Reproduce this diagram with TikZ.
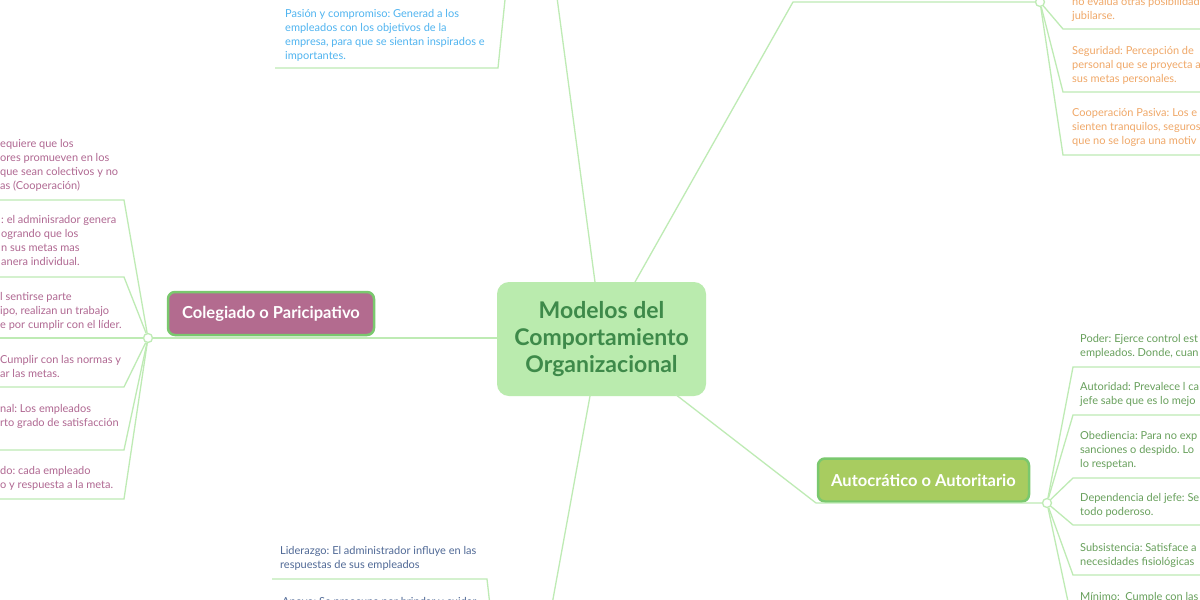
\documentclass[tikz,border=0pt]{standalone}
\usepackage{fontspec}
\setmainfont{Lato}
\usepackage{xcolor}
\usepackage{tikz}
\usetikzlibrary{positioning, calc}
\frenchspacing
\definecolor{mapline}{RGB}{190, 235, 180}
\definecolor{corefill}{RGB}{186, 235, 174}
\definecolor{coretext}{RGB}{62, 138, 74}
\definecolor{topicborder}{RGB}{122, 200, 110}
\definecolor{colfill}{RGB}{179, 107, 143}
\definecolor{autfill}{RGB}{168, 204, 96}
\definecolor{coltext}{RGB}{176, 104, 146}
\definecolor{auttext}{RGB}{104, 160, 92}
\definecolor{segtext}{RGB}{240, 168, 104}
\definecolor{pastext}{RGB}{80, 180, 240}
\definecolor{lidtext}{RGB}{80, 105, 150}

\begin{document}
\begin{tikzpicture}[x=1pt, y=-1pt,
        conn/.style={draw=mapline, line width=1.3pt},
        hub/.style={circle, draw=mapline, fill=white, line width=1.3pt, minimum size=9pt, inner sep=0pt},
        core/.style={rectangle, rounded corners=12pt, fill=corefill, text=coretext, font=\fontsize{23}{27}\selectfont\bfseries, align=center, minimum width=209pt, minimum height=114pt},
        topic/.style={rectangle, rounded corners=7pt, draw=topicborder, line width=2.5pt, text=white, font=\fontsize{16.5}{18}\selectfont\bfseries, minimum height=43pt},
        leaf/.style={anchor=base west, inner sep=0pt, align=left, font=\fontsize{11}{14}\selectfont}
    ]
        \useasboundingbox[fill=white] (0,0) rectangle (1200,600);

        % Central topic and main branches
        \node[core] (core) at (601.5, 339) {Modelos del\\Comportamiento\\Organizacional};
        \node[topic, fill=colfill, minimum width=206pt] (col) at (271, 313.5) {Colegiado o Paricipativo};
        \node[topic, fill=autfill, minimum width=211pt] (aut) at (923.5, 480) {Autocrático o Autoritario};

        \node[hub] (hubL) at (148, 338) {};
        \node[hub] (hubR) at (1047, 503) {};
        \node[hub] (hubT) at (1040, 2) {};

        % Colegiado leaves (placed at the baseline of their last line)
        \node[leaf, text=coltext] (col1) at (0, 189) {equiere que los\\ores promueven en los\\que sean colectivos y no\\as (Cooperación)};
        \node[leaf, text=coltext] (col2) at (1, 265) {: el adminisrador genera\\ogrando que los\\n sus metas mas\\anera individual.};
        \node[leaf, text=coltext] (col3) at (0, 328) {l sentirse parte\\ipo, realizan un trabajo\\e por cumplir con el líder.};
        \node[leaf, text=coltext] (col4) at (0, 377) {Cumplir con las normas y\\ar las metas.};
        \node[leaf, text=coltext] (col5) at (0, 426) {nal: Los empleados\\rto grado de satisfacción};
        \node[leaf, text=coltext] (col6) at (0, 488) {do: cada empleado\\o y respuesta a la meta.};

        % Autocratico leaves
        \node[leaf, text=auttext] (aut1) at (1080, 356) {Poder: Ejerce control est\\empleados. Donde, cuan};
        \node[leaf, text=auttext] (aut2) at (1080, 404) {Autoridad: Prevalece l ca\\jefe sabe que es lo mejo};
        \node[leaf, text=auttext] (aut3) at (1080, 467) {Obediencia: Para no exp\\sanciones o despido. Lo\\lo respetan.};
        \node[leaf, text=auttext] (aut4) at (1080, 515) {Dependencia del jefe: Se\\todo poderoso.};
        \node[leaf, text=auttext] (aut5) at (1080, 565) {Subsistencia: Satisface a\\necesidades fisiológicas};
        \node[leaf, text=auttext] (aut6) at (1080, 600) {Mínimo:\ \ Cumple con las};

        % Custodia leaves (top right)
        \node[leaf, text=segtext] (seg1) at (1072, 19) {no evalúa otras posibilidad\\jubilarse.};
        \node[leaf, text=segtext] (seg2) at (1072, 82) {Seguridad: Percepción de\\personal que se proyecta a\\sus metas personales.};
        \node[leaf, text=segtext] (seg3) at (1072, 144) {Cooperación Pasiva: Los e\\sienten tranquilos, seguros\\que no se logra una motiv};

        % Top and bottom leaves
        \node[leaf, text=pastext] (pas1) at (285, 59) {Pasión y compromiso: Generad a los\\empleados con los objetivos de la\\empresa, para que se sientan inspirados e\\importantes.};
        \node[leaf, text=lidtext] (lid1) at (280, 568) {Liderazgo: El administrador influye en las\\respuestas de sus empleados};
        \node[leaf, text=lidtext] (lid2) at (282, 605) {Apoyo: Se preocupa por brindar y cuidar};

        % Attach points
        \coordinate (coreW) at (497, 338);
        \coordinate (coreN) at (595, 282);
        \coordinate (coreNE) at (635, 282);
        \coordinate (coreS) at (590, 396);
        \coordinate (coreSE) at (675, 394);
        \coordinate (upN) at (556, -10);
        \coordinate (dnS) at (551, 610);
        \coordinate (segK) at (793, 2);
        \coordinate (autK) at (816, 503);

        % Main connectors
        \draw[conn] (hubL) -- (coreW);
        \draw[conn] (coreN) -- (upN);
        \draw[conn] (coreS) -- (dnS);
        \draw[conn] (coreNE) -- (segK) -- (hubT);
        \draw[conn] (coreSE) -- (autK) -- (hubR);

        % Leaf underlines
        \foreach \n/\y in {1/200, 2/277, 4/387, 5/450, 6/499} {
            \coordinate (colK\n) at (124, \y);
            \coordinate (colE\n) at (-5, \y);
            \draw[conn] (hubL) -- (colK\n) -- (colE\n);
        }
        \coordinate (colE3) at (-5, 338);
        \draw[conn] (hubL) -- (colE3);

        \foreach \n/\y in {1/367, 2/415, 3/478, 4/525, 5/575, 6/625} {
            \coordinate (autK\n) at (1073, \y);
            \coordinate (autE\n) at (1205, \y);
            \draw[conn] (hubR) -- (autK\n) -- (autE\n);
        }

        \foreach \n/\y in {1/29, 2/92, 3/155} {
            \coordinate (segK\n) at (1063, \y);
            \coordinate (segE\n) at (1205, \y);
            \draw[conn] (hubT) -- (segK\n) -- (segE\n);
        }

        \coordinate (pasE) at (275, 68);
        \coordinate (pasK) at (498, 68);
        \coordinate (pasT) at (506, -10);
        \draw[conn] (pasE) -- (pasK) -- (pasT);

        \coordinate (lidE) at (272, 579);
        \coordinate (lidK) at (487, 579);
        \coordinate (lidB) at (490.5, 610);
        \draw[conn] (lidE) -- (lidK) -- (lidB);
    \end{tikzpicture}
\end{document}
